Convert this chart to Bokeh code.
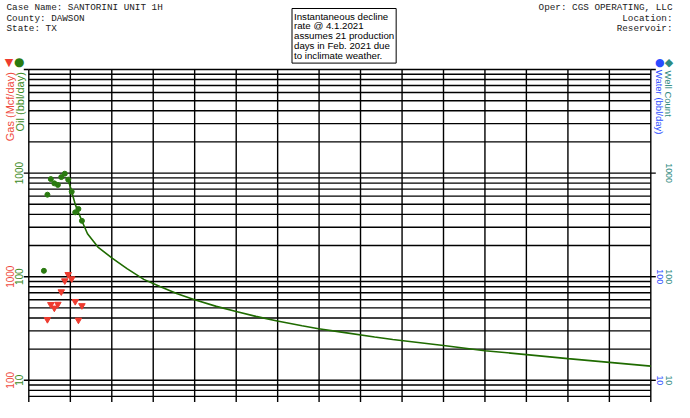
import numpy as np
import pandas as pd
from bokeh.plotting import figure
from bokeh.models import Range1d, Label, LogScale
from bokeh.embed import file_html
from bokeh.resources import INLINE

# ---------------- data ----------------
oil_dates = ["2020-05-13", "2020-06-13", "2020-07-13", "2020-08-13", "2020-09-13", "2020-10-13",
             "2020-11-13", "2020-12-13", "2021-01-13", "2021-02-13", "2021-03-13", "2021-04-13"]
oil_rate = [114, 619, 875, 796, 769, 915, 987, 865, 661, 418, 451, 346]          # bbl/day

gas_dates = ["2020-06-13", "2020-07-13", "2020-08-13", "2020-09-13", "2020-10-13", "2020-11-13",
             "2020-12-13", "2021-01-13", "2021-02-13", "2021-03-13", "2021-04-13"]
gas_rate = [387, 540, 499, 543, 717, 915, 1052, 957, 578, 382, 527]              # Mcf/day

fc_dates = ["2020-12-13", "2021-01-13", "2021-02-13", "2021-03-13", "2021-04-13", "2021-06-01",
            "2021-09-01", "2022-01-01", "2022-05-15", "2022-10-10", "2023-03-01", "2023-08-01",
            "2024-01-01", "2024-07-10", "2025-01-01", "2025-06-23", "2025-12-29", "2026-08-04",
            "2026-12-27", "2027-07-18", "2028-05-04", "2028-10-11", "2030-01-01", "2031-01-01",
            "2032-01-01", "2033-01-01", "2034-01-01", "2035-01-01"]
fc_oil = [863, 661, 499, 418, 345, 260, 193, 152, 119.5, 94.2, 80.6, 68.3,
          60.0, 51.7, 46.2, 41.4, 37.3, 33.6, 31.5, 29.2, 26.2, 24.8, 21.7, 19.3,
          17.7, 16.2, 14.9, 13.7]                                                 # forecast bbl/day

years = list(range(2020, 2036))                 # yearly vertical grid lines
decade_ticks = [10, 100, 1000, 10000]
minor_mult = [1, 2, 3, 4, 5, 6, 7, 8, 9]        # log grid lines per decade
oil_tick_vals = [10, 100, 1000]
oil_tick_text = ["10", "100", "1000"]
gas_tick_vals = [100, 1000]
gas_tick_text = ["100", "1000"]
water_tick_vals = [10, 100]
water_tick_text = ["10", "100"]
well_tick_vals = [10, 100, 1000]
well_tick_text = ["10", "100", "1000"]

header_left = ["Case Name: SANTORINI UNIT 1H", "County: DAWSON", "State: TX"]
header_right = ["Oper: CGS OPERATING, LLC", "Location:", "Reservoir:"]
note_text = ("Instantaneous decline\nrate @ 4.1.2021\nassumes 21 production\n"
             "days in Feb. 2021 due\nto inclimate weather.")

# ---------------- styling / layout ----------------
OIL = "#2a7a10"
OIL_LINE = "#1f6b00"
OIL_TXT = "#3a8a24"
GAS = "#ee3b2f"
GAS_TXT = "#ef4a40"
WATER = "#2a4cff"
WELL = "#2e8a80"
GRID_W = 1.4

W, H = 674, 402
PL, PR, PT = 28.3, 650.3, 69.0      # plot box edges in pixels
DEC = 103.6                          # pixels per decade

x0 = pd.Timestamp("2020-01-01").value / 1e6
x1 = pd.Timestamp("2035-01-01").value / 1e6
mpp = (x1 - x0) / (PR - PL)
ytop = 10000.0


def sx(px):
    return x0 + (px - PL) * mpp


def sy(py):
    return 10 ** (np.log10(ytop) - (py - PT) / DEC)


p = figure(width=W, height=H, x_axis_type="datetime", y_axis_type="log",
           x_axis_location=None, y_axis_location=None,
           x_range=Range1d(sx(0), sx(W)), y_range=Range1d(sy(H), sy(0)),
           output_backend="svg", toolbar_location=None, min_border=0)
p.extra_y_ranges = {"gas": Range1d(sy(H) * 10, sy(0) * 10)}
p.extra_y_scales = {"gas": LogScale()}
p.grid.visible = False
p.outline_line_color = None
p.background_fill_color = "white"
p.border_fill_color = "white"

# grid of the plot box
ybot = sy(H + 4)
year_ms = [pd.Timestamp(f"{y}-01-01").value / 1e6 for y in years]
p.segment(x0=year_ms, y0=[ybot] * len(year_ms), x1=year_ms, y1=[ytop] * len(year_ms),
          line_color="black", line_width=GRID_W)
hvals = [m * d / 10 for d in decade_ticks for m in minor_mult] + [ytop]
hvals = [v for v in hvals if v >= ybot]
p.segment(x0=[sx(PL)] * len(hvals), y0=hvals, x1=[sx(PR)] * len(hvals), y1=hvals,
          line_color="black", line_width=GRID_W)
# decade tick marks outside the box
p.segment(x0=[sx(PL - 5)] * 4, y0=decade_ticks, x1=[sx(PL)] * 4, y1=decade_ticks,
          line_color="black", line_width=GRID_W)
p.segment(x0=[sx(PR)] * 4, y0=decade_ticks, x1=[sx(PR + 5)] * 4, y1=decade_ticks,
          line_color="black", line_width=GRID_W)

# data
p.line(pd.to_datetime(fc_dates), fc_oil, line_color=OIL_LINE, line_width=1.6)
p.scatter(pd.to_datetime(oil_dates), oil_rate, marker="circle", size=5,
          fill_color=OIL, line_color=OIL)
p.scatter(pd.to_datetime(gas_dates), gas_rate, marker="inverted_triangle", size=6.5,
          fill_color=GAS, line_color=GAS, y_range_name="gas")


def lab(text, px, y, **kw):
    opts = dict(x=sx(px), y=y, x_units="data", y_units="data", text=text,
                text_font="Liberation Sans", text_font_size="10px",
                text_align="center", text_baseline="middle")
    opts.update(kw)
    p.add_layout(Label(**opts))


# header
HY = [7.3, 17.6, 28.0]
for t, py in zip(header_left, HY):
    lab(t, 6.0, sy(py), text_font="Liberation Mono", text_font_size="9.3px",
        text_align="left", text_color="#222222")
for t, py in zip(header_right, HY):
    lab(t, 672.0, sy(py), text_font="Liberation Mono", text_font_size="9.3px",
        text_align="right", text_color="#222222")

# note box
lab(note_text, 291.5, sy(8), text_font_size="9.7px", text_align="left",
    text_baseline="top", text_line_height=0.9, text_color="black",
    border_line_color="black", border_line_width=1, background_fill_color="white",
    padding=2)

# left side labels
UP = np.pi / 2
lab("Gas (Mcf/day)", 9.5, sy(71.7), angle=UP, text_font_size="11px",
    text_align="right", text_color=GAS_TXT)
lab("Oil (bbl/day)", 19.5, sy(71.7), angle=UP, text_font_size="11px",
    text_align="right", text_color=OIL_TXT)
for v, t in zip(gas_tick_vals, gas_tick_text):
    lab(t, 9.0, v, angle=UP, text_color=GAS_TXT, y_range_name="gas")
for v, t in zip(oil_tick_vals, oil_tick_text):
    lab(t, 18.8, v, angle=UP, text_color=OIL_TXT)
lab("\u25BC", 8.5, sy(61.5), text_font="DejaVu Sans", text_font_size="11px", text_color=GAS)
lab("\u25CF", 18.8, sy(61.5), text_font="DejaVu Sans", text_font_size="12px", text_color=OIL)

# right side labels (squeezed to fit the 674 px canvas)
DN = -np.pi / 2
RB, RT = 659.4, 668.4
lab("Water (bbl/day)", RB, sy(69.3), angle=DN, text_font_size="9.5px",
    text_align="left", text_color=WATER)
lab("Well Count", RT, sy(70.0), angle=DN, text_font_size="9.5px",
    text_align="left", text_color=WELL)
for v, t in zip(water_tick_vals, water_tick_text):
    lab(t, RB, v, angle=DN, text_font_size="8.8px", text_color=WATER)
for v, t in zip(well_tick_vals, well_tick_text):
    lab(t, RT, v, angle=DN, text_font_size="8.8px", text_color=WELL)
lab("\u25CF", RB, sy(61.5), text_font="DejaVu Sans", text_font_size="11px", text_color=WATER)
lab("\u25C6", RT, sy(61.5), text_font="DejaVu Sans", text_font_size="11px", text_color=WELL)

open("out.html", "w").write(file_html(p, INLINE))
